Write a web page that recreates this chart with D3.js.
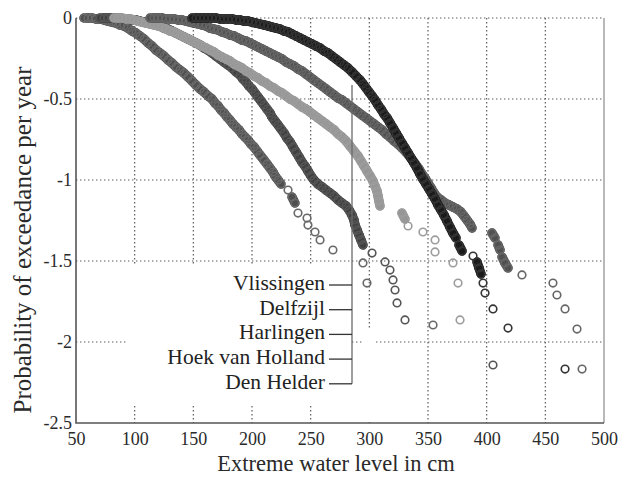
<!DOCTYPE html>
<html>
<head>
<meta charset="utf-8">
<script src="https://cdn.jsdelivr.net/npm/d3@7"></script>
<style>
  body { margin: 0; background: #fff; }
  svg { display: block; font-family: "Liberation Serif", "Times New Roman", serif; }
</style>
</head>
<body>
<svg id="chart" width="619" height="477"></svg>
<script>
// axis ticks
const xTicks = [50, 100, 150, 200, 250, 300, 350, 400, 450, 500];
const yTicks = [0, -0.5, -1, -1.5, -2, -2.5];
const stationNames = ["Vlissingen", "Delfzijl", "Harlingen", "Hoek van Holland", "Den Helder"];

// water level (cm) and log10 exceedance per year
const denHelderLevel = [56.8,60.2,63.6,67.0,70.5,73.9,77.3,80.7,84.1,87.5,90.9,94.3,97.7,101.1,104.5,108.0,111.4,114.8,118.2,121.6,125.0,128.4,131.8,135.2,138.6,142.0,145.5,148.9,152.3,155.7,159.1,162.5,165.9,168.5,171.0,173.6,176.1,178.7,181.2,183.8,186.4,188.9,191.5,194.0,196.6,199.1,201.7,204.3,206.8,210.2,212.8,215.3,217.9,219.6,222.2,224.7,230.7,234.1,236.6,239.2,246.9,247.7,253.7,258.0,269.0,294.6,298.0,354.3];
const denHelderLog = [0,0,0,-0.006,-0.006,-0.012,-0.019,-0.025,-0.031,-0.043,-0.049,-0.062,-0.080,-0.093,-0.111,-0.130,-0.154,-0.173,-0.198,-0.216,-0.235,-0.259,-0.278,-0.302,-0.321,-0.340,-0.364,-0.389,-0.414,-0.438,-0.457,-0.481,-0.500,-0.525,-0.543,-0.568,-0.586,-0.611,-0.630,-0.654,-0.673,-0.691,-0.716,-0.735,-0.753,-0.778,-0.796,-0.821,-0.846,-0.877,-0.901,-0.926,-0.951,-0.975,-1.000,-1.025,-1.062,-1.105,-1.142,-1.204,-1.235,-1.278,-1.321,-1.370,-1.432,-1.512,-1.636,-1.895];

const hoekLevel = [70.5,73.9,77.3,80.7,84.1,87.5,90.9,94.3,97.7,101.1,104.5,108.0,111.4,114.8,118.2,121.6,125.0,128.4,131.8,135.2,138.6,142.0,145.5,148.9,152.3,155.7,159.1,162.5,165.9,169.3,172.7,176.1,179.5,183.0,186.4,189.8,192.3,194.9,197.4,200.0,202.6,205.1,207.7,210.2,212.8,215.3,217.0,219.6,222.2,224.7,227.3,229.8,232.4,234.9,237.5,240.1,242.6,245.2,247.7,250.3,252.8,256.2,259.7,263.1,266.5,269.9,273.3,276.7,280.1,282.7,285.2,286.9,287.8,289.5,291.2,292.9,294.6,302.3,313.4,317.6,320.2,321.9,323.6,330.4,405.4];
const hoekLog = [0,0,0,0,0,0,-0.006,-0.006,-0.012,-0.012,-0.019,-0.025,-0.031,-0.037,-0.043,-0.049,-0.062,-0.068,-0.080,-0.093,-0.105,-0.117,-0.130,-0.142,-0.154,-0.167,-0.185,-0.198,-0.216,-0.235,-0.253,-0.272,-0.290,-0.309,-0.333,-0.352,-0.377,-0.395,-0.420,-0.438,-0.463,-0.488,-0.512,-0.537,-0.562,-0.586,-0.611,-0.636,-0.660,-0.685,-0.710,-0.741,-0.765,-0.796,-0.827,-0.858,-0.889,-0.914,-0.944,-0.975,-1.000,-1.025,-1.043,-1.062,-1.080,-1.099,-1.123,-1.142,-1.160,-1.185,-1.216,-1.247,-1.278,-1.309,-1.340,-1.370,-1.401,-1.451,-1.506,-1.556,-1.617,-1.679,-1.759,-1.864,-2.142];

const harlingenLevel = [82.4,85.8,89.2,92.6,96.0,99.4,102.8,106.2,109.7,113.1,116.5,119.9,123.3,126.7,130.1,133.5,136.9,140.3,143.7,147.2,150.6,154.0,157.4,160.8,164.2,167.6,171.0,174.4,177.8,181.2,184.7,188.1,191.5,194.9,198.3,201.7,205.1,208.5,211.9,215.3,218.7,222.2,225.6,229.0,232.4,235.8,239.2,242.6,246.0,249.4,252.8,256.2,259.7,263.1,266.5,269.9,273.3,276.7,280.1,283.5,286.9,290.3,292.9,295.5,298.0,300.6,303.1,304.8,306.5,307.4,308.2,309.1,327.8,330.4,333.0,345.7,356.0,356.0,371.3,375.6,377.3];
const harlingenLog = [0,0,0,-0.006,-0.006,-0.012,-0.019,-0.025,-0.031,-0.037,-0.043,-0.049,-0.056,-0.068,-0.080,-0.086,-0.099,-0.111,-0.123,-0.136,-0.148,-0.160,-0.173,-0.185,-0.198,-0.210,-0.228,-0.241,-0.253,-0.265,-0.284,-0.296,-0.309,-0.327,-0.340,-0.358,-0.370,-0.389,-0.401,-0.420,-0.432,-0.451,-0.463,-0.481,-0.500,-0.512,-0.531,-0.549,-0.562,-0.580,-0.599,-0.617,-0.636,-0.654,-0.673,-0.691,-0.716,-0.735,-0.759,-0.790,-0.821,-0.852,-0.883,-0.914,-0.944,-0.975,-1.006,-1.037,-1.068,-1.099,-1.130,-1.160,-1.204,-1.241,-1.284,-1.321,-1.370,-1.444,-1.512,-1.636,-1.864];

const delfzijlLevel = [113.1,116.5,119.9,123.3,126.7,130.1,133.5,136.9,140.3,143.7,147.2,150.6,154.0,157.4,160.8,164.2,167.6,171.0,174.4,177.8,181.2,184.7,188.1,191.5,194.9,198.3,201.7,205.1,208.5,211.9,215.3,218.7,222.2,225.6,229.0,232.4,235.8,239.2,242.6,246.0,249.4,252.8,256.2,259.7,263.1,266.5,269.9,273.3,276.7,280.1,283.5,286.9,290.3,293.7,297.2,300.6,304.0,307.4,310.8,314.2,317.6,321.0,324.4,327.8,331.2,334.7,337.2,339.8,342.3,344.9,347.4,350.0,352.6,355.1,357.7,361.1,364.5,367.9,371.3,374.7,378.1,380.7,383.2,385.8,387.5,404.5,407.1,409.7,411.4,413.1,415.6,418.2,430.1,456.5,459.9,466.8,477.0,481.3];
const delfzijlLog = [0,0,0,0,-0.006,-0.006,-0.006,-0.012,-0.012,-0.019,-0.025,-0.031,-0.037,-0.043,-0.049,-0.062,-0.068,-0.074,-0.086,-0.093,-0.105,-0.111,-0.123,-0.136,-0.142,-0.154,-0.167,-0.179,-0.191,-0.204,-0.216,-0.228,-0.241,-0.253,-0.272,-0.284,-0.296,-0.315,-0.327,-0.346,-0.364,-0.383,-0.401,-0.420,-0.438,-0.457,-0.475,-0.494,-0.506,-0.525,-0.543,-0.562,-0.580,-0.599,-0.617,-0.636,-0.654,-0.673,-0.691,-0.716,-0.735,-0.759,-0.778,-0.802,-0.827,-0.858,-0.883,-0.907,-0.932,-0.963,-0.988,-1.019,-1.049,-1.080,-1.105,-1.123,-1.142,-1.154,-1.167,-1.179,-1.198,-1.222,-1.247,-1.272,-1.296,-1.327,-1.358,-1.401,-1.432,-1.475,-1.512,-1.543,-1.586,-1.636,-1.710,-1.796,-1.920,-2.167];

const vlissingenLevel = [148.9,152.3,155.7,159.1,162.5,165.9,169.3,172.7,176.1,179.5,183.0,186.4,189.8,193.2,196.6,200.0,203.4,206.8,210.2,213.6,217.0,220.5,223.9,227.3,230.7,234.1,237.5,240.9,244.3,247.7,251.1,254.5,258.0,261.4,264.8,268.2,271.6,275.0,278.4,281.8,285.2,288.6,292.0,294.6,297.2,299.7,302.3,304.8,307.4,309.9,312.5,315.1,317.6,320.2,322.7,325.3,327.8,330.4,333.0,335.5,338.1,340.6,343.2,345.7,348.3,350.9,353.4,356.0,358.5,361.1,363.6,366.2,368.7,371.3,373.9,376.4,379.0,388.4,391.8,393.5,395.2,396.9,398.6,405.4,418.2,466.8];
const vlissingenLog = [0,0,0,0,0,0,0,-0.006,-0.006,-0.006,-0.006,-0.012,-0.012,-0.019,-0.019,-0.025,-0.031,-0.037,-0.043,-0.049,-0.056,-0.062,-0.068,-0.080,-0.086,-0.099,-0.111,-0.123,-0.136,-0.148,-0.160,-0.173,-0.185,-0.204,-0.216,-0.235,-0.253,-0.272,-0.290,-0.309,-0.333,-0.358,-0.383,-0.407,-0.432,-0.457,-0.481,-0.506,-0.537,-0.562,-0.593,-0.617,-0.648,-0.679,-0.710,-0.741,-0.772,-0.802,-0.833,-0.864,-0.895,-0.926,-0.963,-0.994,-1.025,-1.056,-1.086,-1.117,-1.154,-1.185,-1.216,-1.253,-1.290,-1.327,-1.358,-1.401,-1.438,-1.469,-1.506,-1.543,-1.580,-1.636,-1.698,-1.796,-1.914,-2.167];

const width = 619, height = 477;
const margin = { left: 76, right: 15, top: 18, bottom: 54 };

const x = d3.scaleLinear().domain([50, 500]).range([margin.left, width - margin.right]);
const y = d3.scaleLinear().domain([-2.5, 0]).range([height - margin.bottom, margin.top]);

const svg = d3.select("#chart");

// white background
svg.append("rect").attr("width", width).attr("height", height).attr("fill", "#fff");

// dotted grid
const grid = svg.append("g")
  .attr("stroke", "#5a5a5a")
  .attr("stroke-width", 1.2)
  .attr("stroke-dasharray", "1.4,2.6");

grid.selectAll(".vgrid")
  .data(xTicks.slice(1, -1))
  .enter()
  .append("line")
  .attr("x1", d => x(d)).attr("x2", d => x(d))
  .attr("y1", y(0)).attr("y2", y(-2.5));

grid.selectAll(".hgrid")
  .data(yTicks.slice(0, -1))
  .enter()
  .append("line")
  .attr("x1", x(50)).attr("x2", x(500))
  .attr("y1", d => y(d)).attr("y2", d => y(d));

// blank patches behind the label block (grid is cut there)
svg.append("rect").attr("x", 134).attr("y", 266).attr("width", 217).attr("height", 138).attr("fill", "#fff");
svg.append("rect").attr("x", 128).attr("y", 318).attr("width", 8).attr("height", 35).attr("fill", "#fff");
svg.append("rect").attr("x", 364).attr("y", 328).attr("width", 10).attr("height", 94).attr("fill", "#fff");

// frame
svg.append("line").attr("x1", x(500)).attr("x2", x(500)).attr("y1", y(0)).attr("y2", y(-2.5))
  .attr("stroke", "#8a8a8a").attr("stroke-width", 1.2);
svg.append("path")
  .attr("d", `M${x(50)},${y(0)}V${y(-2.5)}H${x(500)}`)
  .attr("fill", "none").attr("stroke", "#555").attr("stroke-width", 1.6);

// stations
const series = [
  { name: "Den Helder", band: "#4e4e4e", ring: "#686868", pts: d3.zip(denHelderLevel, denHelderLog) },
  { name: "Hoek van Holland", band: "#404040", ring: "#555", pts: d3.zip(hoekLevel, hoekLog) },
  { name: "Harlingen", band: "#969696", ring: "#9c9c9c", pts: d3.zip(harlingenLevel, harlingenLog) },
  { name: "Delfzijl", band: "#505050", ring: "#666", pts: d3.zip(delfzijlLevel, delfzijlLog) },
  { name: "Vlissingen", band: "#1a1a1a", ring: "#333", pts: d3.zip(vlissingenLevel, vlissingenLog) }
];

series.forEach(s => {
  const g = svg.append("g");

  // where the rings crowd together they merge into a solid band
  const close = d3.pairs(s.pts).filter(([a, b]) =>
    Math.hypot(x(a[0]) - x(b[0]), y(a[1]) - y(b[1])) < 7);
  g.append("g")
    .attr("stroke", s.band)
    .attr("stroke-width", 9.5)
    .attr("stroke-linecap", "round")
    .selectAll("line")
    .data(close)
    .enter()
    .append("line")
    .attr("x1", d => x(d[0][0])).attr("y1", d => y(d[0][1]))
    .attr("x2", d => x(d[1][0])).attr("y2", d => y(d[1][1]));

  g.append("g")
    .attr("fill", "none")
    .attr("stroke", s.ring)
    .attr("stroke-width", 1.6)
    .selectAll("circle")
    .data(s.pts)
    .enter()
    .append("circle")
    .attr("cx", d => x(d[0]))
    .attr("cy", d => y(d[1]))
    .attr("r", 3.8);
});

// tick labels
const xAxis = d3.axisBottom(x).tickValues(xTicks).tickSize(0).tickPadding(9).tickFormat(d => String(d));
svg.append("g")
  .attr("transform", `translate(0,${y(-2.5)})`)
  .call(xAxis)
  .call(g => g.select(".domain").remove())
  .selectAll("text")
  .attr("font-family", "Liberation Serif, serif")
  .attr("font-size", 18)
  .attr("fill", "#2a2a2a");

const yAxis = d3.axisLeft(y).tickValues(yTicks).tickSize(0).tickPadding(4).tickFormat(d => String(d));
svg.append("g")
  .attr("transform", `translate(${x(50)},0)`)
  .call(yAxis)
  .call(g => g.select(".domain").remove())
  .selectAll("text")
  .attr("font-family", "Liberation Serif, serif")
  .attr("font-size", 18)
  .attr("fill", "#2a2a2a");

// axis titles
svg.append("text")
  .attr("x", 336).attr("y", 471)
  .attr("text-anchor", "middle")
  .attr("font-size", 22.5)
  .attr("fill", "#2a2a2a")
  .text("Extreme water level in cm");

svg.append("text")
  .attr("transform", "translate(31,240) rotate(-90)")
  .attr("text-anchor", "middle")
  .attr("font-size", 25)
  .attr("fill", "#2a2a2a")
  .text("Probability of exceedance per year");

// station labels with bracket
const bracketX = 352;
const labelY = stationNames.map((d, i) => 285 + i * 24.7);

svg.append("line")
  .attr("x1", bracketX).attr("x2", bracketX)
  .attr("y1", 85).attr("y2", labelY[labelY.length - 1])
  .attr("stroke", "#6a6a6a").attr("stroke-width", 1.3);

const labels = svg.append("g");
labels.selectAll("line")
  .data(stationNames)
  .enter()
  .append("line")
  .attr("x1", 329).attr("x2", bracketX)
  .attr("y1", (d, i) => labelY[i]).attr("y2", (d, i) => labelY[i])
  .attr("stroke", "#333").attr("stroke-width", 1.3);

labels.selectAll("text")
  .data(stationNames)
  .enter()
  .append("text")
  .attr("x", 325)
  .attr("y", (d, i) => labelY[i] + 5)
  .attr("text-anchor", "end")
  .attr("font-size", 21.5)
  .attr("fill", "#222")
  .text(d => d);
</script>
</body>
</html>
